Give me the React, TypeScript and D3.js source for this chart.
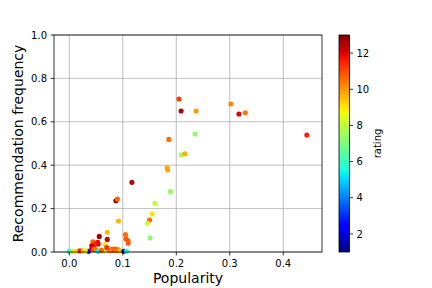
import React from 'react';
import * as d3 from 'd3';

// popularity, recommendation frequency, rating
const popularity = [
  0.444, 0.205, 0.209, 0.237, 0.302, 0.317, 0.329, 0.235, 0.186, 0.209,
  0.216, 0.183, 0.184, 0.189, 0.117, 0.087, 0.090, 0.160, 0.155, 0.150,
  0.146, 0.092, 0.151, 0.105, 0.110, 0.110, 0.071, 0.071, 0.056, 0.044,
  0.067, 0.054, 0.048, 0.042, 0.053, 0.106, 0.080, 0.086, 0.092, 0.000,
  0.004, 0.014, 0.020, 0.026, 0.036, 0.042, 0.046, 0.050, 0.054, 0.064,
  0.082, 0.089, 0.095, 0.102, 0.107, 0.010, 0.030, 0.060, 0.075, 0.070,
];
const recFrequency = [
  0.539, 0.705, 0.650, 0.650, 0.682, 0.636, 0.642, 0.544, 0.519, 0.448,
  0.452, 0.389, 0.378, 0.278, 0.321, 0.236, 0.244, 0.224, 0.175, 0.147,
  0.132, 0.143, 0.065, 0.080, 0.052, 0.040, 0.091, 0.058, 0.072, 0.047,
  0.034, 0.037, 0.034, 0.029, 0.045, 0.060, 0.014, 0.014, 0.010, 0.003,
  0.003, 0.004, 0.005, 0.004, 0.003, 0.015, 0.012, 0.010, 0.002, 0.004,
  0.008, 0.006, 0.005, 0.003, 0.003, 0.002, 0.006, 0.008, 0.006, 0.020,
];
const rating = [
  11.6, 11.2, 12.5, 10.0, 10.2, 12.0, 10.4, 7.3, 10.5, 7.4,
  9.7, 9.7, 9.8, 7.4, 12.3, 12.6, 10.6, 8.0, 9.0, 10.6,
  8.1, 9.6, 7.2, 10.5, 10.6, 10.8, 9.6, 12.3, 12.7, 10.7,
  9.0, 12.0, 11.5, 12.2, 11.8, 10.8, 10.6, 10.8, 10.5, 5.6,
  7.3, 9.2, 11.5, 9.3, 2.8, 12.0, 10.8, 10.4, 5.4, 8.0,
  10.6, 10.4, 9.4, 2.6, 5.8, 9.0, 8.8, 10.7, 10.2, 11.3,
];

const xTicks = [0.0, 0.1, 0.2, 0.3, 0.4];
const yTicks = [0.0, 0.2, 0.4, 0.6, 0.8, 1.0];
const cTicks = [2, 4, 6, 8, 10, 12];

// matplotlib jet
const jetR = d3.scaleLinear<number>().domain([0, 0.35, 0.66, 0.89, 1]).range([0, 0, 1, 1, 0.5]).clamp(true);
const jetG = d3.scaleLinear<number>().domain([0, 0.125, 0.375, 0.64, 0.91, 1]).range([0, 0, 1, 1, 0, 0]).clamp(true);
const jetB = d3.scaleLinear<number>().domain([0, 0.11, 0.34, 0.65, 1]).range([0.5, 1, 1, 0, 0]).clamp(true);
const jet = (t: number) =>
  d3.rgb(jetR(t) * 255, jetG(t) * 255, jetB(t) * 255).formatHex();

const W = 432;
const H = 288;
const m = { left: 54, right: 322, top: 35, bottom: 252 };
const cb = { x: 339, w: 10.5, top: 35, bottom: 252 };
const font = 'DejaVu Sans, sans-serif';

export default function App() {
  const x = d3.scaleLinear().domain([-0.0286, 0.4724]).range([m.left, m.right]);
  const y = d3.scaleLinear().domain([0, 1]).range([m.bottom, m.top]);
  const c = d3.scaleLinear().domain([1, 13]).range([0, 1]);
  const cy = d3.scaleLinear().domain([1, 13]).range([cb.bottom, cb.top]);
  const stops = d3.range(0, 1.0001, 0.02);

  return (
    <svg width={W} height={H} style={{ position: 'absolute', left: 0, top: 0, background: '#fff' }}>
      <defs>
        <linearGradient id="jet" x1="0" y1="1" x2="0" y2="0">
          {stops.map((s) => (
            <stop key={s} offset={s} stopColor={jet(s)} />
          ))}
        </linearGradient>
      </defs>
      {/* grid */}
      {xTicks.map((t) => (
        <line key={'gx' + t} x1={x(t)} x2={x(t)} y1={m.top} y2={m.bottom} stroke="#b0b0b0" strokeWidth={0.8} />
      ))}
      {yTicks.map((t) => (
        <line key={'gy' + t} x1={m.left} x2={m.right} y1={y(t)} y2={y(t)} stroke="#b0b0b0" strokeWidth={0.8} />
      ))}
      {/* points */}
      {popularity.map((p, i) => (
        <circle key={i} cx={x(p)} cy={y(recFrequency[i])} r={2.55} fill={jet(c(rating[i]))} />
      ))}
      {/* frame */}
      <rect x={m.left} y={m.top} width={m.right - m.left} height={m.bottom - m.top} fill="none" stroke="#000" strokeWidth={0.8} />
      {/* x axis */}
      {xTicks.map((t) => (
        <g key={'xt' + t}>
          <line x1={x(t)} x2={x(t)} y1={m.bottom} y2={m.bottom + 3.5} stroke="#000" strokeWidth={0.8} />
          <text x={x(t)} y={m.bottom + 15} textAnchor="middle" fontSize={10} fontFamily={font}>
            {d3.format('.1f')(t)}
          </text>
        </g>
      ))}
      {yTicks.map((t) => (
        <g key={'yt' + t}>
          <line x1={m.left - 3.5} x2={m.left} y1={y(t)} y2={y(t)} stroke="#000" strokeWidth={0.8} />
          <text x={m.left - 7} y={y(t) + 3.6} textAnchor="end" fontSize={10} fontFamily={font}>
            {d3.format('.1f')(t)}
          </text>
        </g>
      ))}
      <text x={(m.left + m.right) / 2} y={283} textAnchor="middle" fontSize={14} fontFamily={font}>
        Popularity
      </text>
      <text
        transform={`translate(23, ${(m.top + m.bottom) / 2}) rotate(-90)`}
        textAnchor="middle"
        fontSize={14}
        fontFamily={font}
      >
        Recommendation frequency
      </text>
      {/* colorbar */}
      <rect x={cb.x} y={cb.top} width={cb.w} height={cb.bottom - cb.top} fill="url(#jet)" stroke="#000" strokeWidth={0.8} />
      {cTicks.map((t) => (
        <g key={'ct' + t}>
          <line x1={cb.x + cb.w} x2={cb.x + cb.w + 3.5} y1={cy(t)} y2={cy(t)} stroke="#000" strokeWidth={0.8} />
          <text x={cb.x + cb.w + 7} y={cy(t) + 3.6} fontSize={10} fontFamily={font}>
            {t}
          </text>
        </g>
      ))}
      <text
        transform={`translate(381, ${(cb.top + cb.bottom) / 2}) rotate(-90)`}
        textAnchor="middle"
        fontSize={10}
        fontFamily={font}
      >
        rating
      </text>
    </svg>
  );
}
